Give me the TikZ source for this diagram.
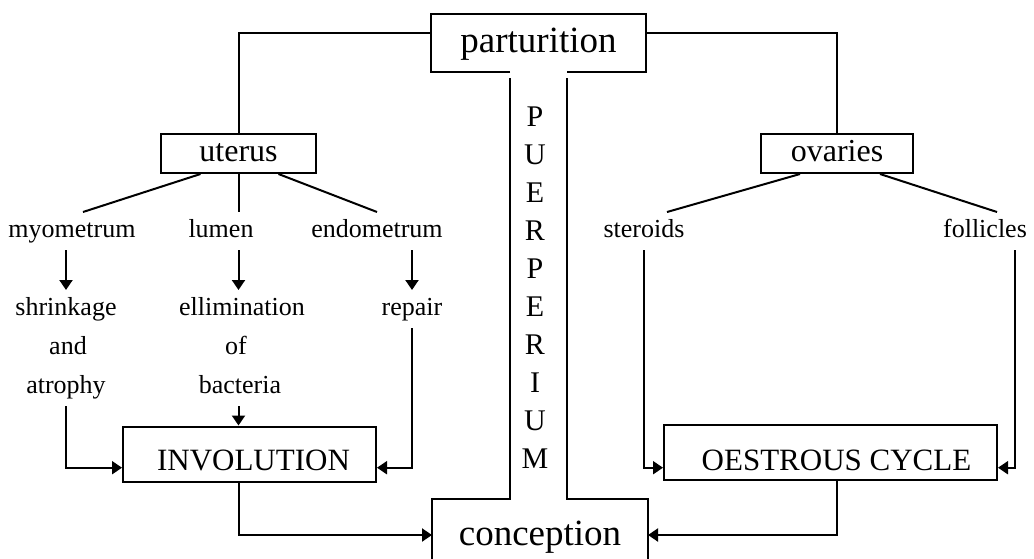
\documentclass[tikz,border=0pt]{standalone}
\usepackage{fontspec}
\setmainfont{Liberation Serif}
\usetikzlibrary{calc,arrows.meta}

\begin{document}
\begin{tikzpicture}[x=1pt,y=-1pt,line width=2pt,
  word/.style={font=\fontsize{26pt}{30pt}\selectfont,inner sep=6pt,text height=18pt,text depth=6pt,anchor=base},
  smallbox/.style={draw,font=\fontsize{32pt}{36pt}\selectfont,minimum width=155pt,minimum height=39pt,text height=22pt,text depth=7pt,inner sep=0pt},
  bigbox/.style={draw,font=\fontsize{31pt}{36pt}\selectfont,minimum height=55pt,text height=35pt,text depth=3pt,inner sep=0pt},
  title/.style={font=\fontsize{37pt}{42pt}\selectfont,inner sep=0pt,text height=26pt,text depth=6pt},
  letter/.style={font=\fontsize{30pt}{34pt}\selectfont,text height=20pt,text depth=0pt,inner sep=0pt},
  arr/.style={-{Triangle[length=10pt,width=13pt]}}]
  \useasboundingbox (0,0) rectangle (1034,558);

  \node[title,minimum width=213pt,minimum height=56pt,text height=24pt] (partu) at (538.5,43) {parturition};
  \node[title,minimum width=214pt,minimum height=70pt] (concep) at (540,535) {conception};
  \node[smallbox] (uterus) at (238.5,153.5) {uterus};
  \node[smallbox,minimum width=152pt] (ovar) at (837,153.5) {ovaries};
  \node[bigbox,minimum width=253pt] (invol) at (249.5,454) {\hspace{8pt}INVOLUTION};
  \node[bigbox,minimum width=333pt,text height=38pt] (oest) at (830.5,452.5) {\hspace{12pt}OESTROUS CYCLE};

  \node[word] (myo) at (72,237) {myometrum};
  \node[word] (lumen) at (221,237) {lumen};
  \node[word] (endo) at (377,237) {endometrum};
  \node[word] (shrink) at (66,315) {shrinkage};
  \node[word] (andw) at (68,354) {and};
  \node[word] (atro) at (66,393) {atrophy};
  \node[word] (ellim) at (242,315) {ellimination};
  \node[word] (ofw) at (236,354) {of};
  \node[word] (bact) at (240,393) {bacteria};
  \node[word] (repair) at (412,315) {repair};
  \node[word] (ster) at (644,237) {steroids};
  \node[word] (foll) at (985,237) {follicles};

  \foreach \ch [count=\i] in {P,U,E,R,P,E,R,I,U,M}
    \node[letter] (pu\i) at (535,78+38*\i) {\ch};

  \draw ([xshift=-28.5pt]partu.south) -| (partu.north west) -| (partu.south east) -- ([xshift=28.5pt]partu.south);
  \draw ([xshift=-28.5pt,yshift=-6pt]partu.south) |- (concep.north west) -- (concep.south west);
  \draw ([xshift=28.5pt,yshift=-6pt]partu.south) |- (concep.north east) -- (concep.south east);

  \draw ([yshift=10pt]partu.west) -| (uterus.north);
  \draw ([yshift=10pt]partu.east) -| (ovar.north);

  \draw ([xshift=-38pt]uterus.south) -- ([xshift=11pt]myo.north);
  \draw (uterus.south) -- (uterus.south |- lumen.north);
  \draw ([xshift=40pt]uterus.south) -- (endo.north);
  \draw[arr] (shrink.north |- myo.south) -- (shrink.north);
  \draw[arr] (uterus.south |- lumen.south) -- (uterus.south |- ellim.north);
  \draw[arr] (repair.north |- endo.south) -- (repair.north);
  \draw[arr] (atro.south) |- (invol.mid west);
  \draw[arr] (uterus.south |- bact.south) -- (invol.north -| uterus.south);
  \draw[arr] (repair.south) |- (invol.mid east);
  \draw[arr] (uterus.south |- invol.south) |- (concep.west);

  \draw ([xshift=-37pt]ovar.south) -- ([xshift=23pt]ster.north);
  \draw ([xshift=43pt]ovar.south) -- ([xshift=12pt]foll.north);
  \draw[arr] (ster.south) |- (oest.mid west);
  \draw[arr] ([xshift=30pt]foll.south) |- (oest.mid east);
  \draw[arr] (ovar.south |- oest.south) |- (concep.east);
\end{tikzpicture}
\end{document}
